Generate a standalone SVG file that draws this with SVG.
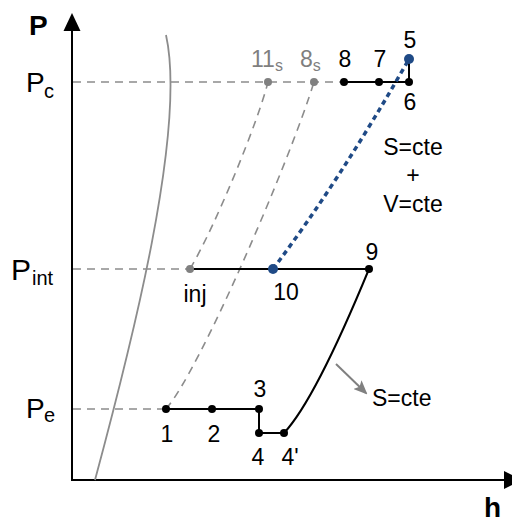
<svg xmlns="http://www.w3.org/2000/svg" width="512" height="522" viewBox="0 0 512 522">
<style>
text{font-family:"Liberation Sans",Arial,sans-serif;font-size:23px;fill:#000}
.lab{text-anchor:middle}
.gray{fill:#7f7f7f}
.axis{stroke:#000;stroke-width:2;fill:none}
.dash{stroke:#8c8c8c;stroke-width:1.6;fill:none;stroke-dasharray:8 6}
.sol{stroke:#000;stroke-width:2;fill:none}
.blue{stroke:#1f4a86;stroke-width:3.5;fill:none;stroke-dasharray:5 4}
.dk{fill:#000}
.gd{fill:#808080}
.bd{fill:#1f4a86}
</style>
<defs>
<marker id="ga" markerWidth="14" markerHeight="12" refX="12" refY="6" orient="auto" markerUnits="userSpaceOnUse">
<path d="M0,0 L14,6 L0,12 L3,6 Z" fill="#808080"/>
</marker>
</defs>
<g id="axes">
<line class="axis" x1="72" y1="481" x2="72" y2="26"/>
<path d="M72,13 L63.5,31 L80.5,31 Z" fill="#000"/>
<line class="axis" x1="71" y1="480" x2="508" y2="480"/>
<path d="M522,480 L504,471 L504,489 Z" fill="#000"/>
<text x="29" y="35" style="font-weight:bold;font-size:28px">P</text>
<text x="484" y="517" style="font-weight:bold;font-size:28px">h</text>
<text x="26" y="92" style="font-size:28px">P<tspan x="44" y="98" style="font-size:20px">c</tspan></text>
<text x="11" y="280" style="font-size:30px">P<tspan x="32" y="285" style="font-size:20px">int</tspan></text>
<text x="26" y="418" style="font-size:28px">P<tspan x="44" y="422" style="font-size:20px">e</tspan></text>
</g>
<g id="connectors">
<path d="M166,35 C187,130 130,350 95,480" stroke="#8c8c8c" stroke-width="1.8" fill="none"/>
<line class="dash" x1="73" y1="82" x2="344" y2="82"/>
<line class="dash" x1="73" y1="269" x2="190" y2="269"/>
<line class="dash" x1="73" y1="409" x2="166" y2="409"/>
<path class="dash" d="M190,269 C215,227 258,122 268,82"/>
<path class="dash" d="M166,409 C200,370 290,160 314,82"/>
<polyline class="sol" points="344,82 409,82 409,59"/>
<line class="sol" x1="190" y1="269" x2="369" y2="269"/>
<polyline class="sol" points="166,409 259,409 259,433 284,433"/>
<path class="sol" d="M284,433 Q315,400 369,269"/>
<path class="blue" d="M273,269 Q340,180 409,59"/>
<line x1="336" y1="364" x2="366" y2="393" stroke="#808080" stroke-width="2" marker-end="url(#ga)"/>
</g>
<g id="node-11s"><circle class="gd" cx="268" cy="82" r="4"/><text class="gray" x="251" y="67">11<tspan y="71" style="font-size:16px">s</tspan></text></g>
<g id="node-8s"><circle class="gd" cx="314" cy="82" r="4"/><text class="gray" x="300" y="67">8<tspan y="71" style="font-size:16px">s</tspan></text></g>
<g id="node-8"><circle class="dk" cx="344" cy="82" r="4"/><text class="lab" x="345" y="67">8</text></g>
<g id="node-7"><circle class="dk" cx="379" cy="82" r="4"/><text class="lab" x="380" y="67">7</text></g>
<g id="node-6"><circle class="dk" cx="409" cy="82" r="4"/><text class="lab" x="410" y="110">6</text></g>
<g id="node-5"><circle class="bd" cx="409" cy="59" r="5"/><text class="lab" x="410" y="48">5</text></g>
<g id="node-inj"><circle class="gd" cx="190" cy="269" r="4"/><text class="lab" x="195" y="302">inj</text></g>
<g id="node-10"><circle class="bd" cx="273" cy="269" r="5"/><text class="lab" x="286" y="300">10</text></g>
<g id="node-9"><circle class="dk" cx="369" cy="269" r="4"/><text class="lab" x="372" y="260">9</text></g>
<g id="node-1"><circle class="dk" cx="166" cy="409" r="4"/><text class="lab" x="167" y="442">1</text></g>
<g id="node-2"><circle class="dk" cx="212" cy="409" r="4"/><text class="lab" x="214" y="442">2</text></g>
<g id="node-3"><circle class="dk" cx="259" cy="409" r="4"/><text class="lab" x="260" y="397">3</text></g>
<g id="node-4"><circle class="dk" cx="259" cy="433" r="4"/><text class="lab" x="258" y="465">4</text></g>
<g id="node-4p"><circle class="dk" cx="284" cy="433" r="4"/><text class="lab" x="290" y="465">4'</text></g>
<g id="label-sv"><text class="lab" x="413" y="155">S=cte</text><text class="lab" x="413" y="183">+</text><text class="lab" x="413" y="212">V=cte</text></g>
<g id="label-s"><text x="372" y="406">S=cte</text></g>
</svg>
